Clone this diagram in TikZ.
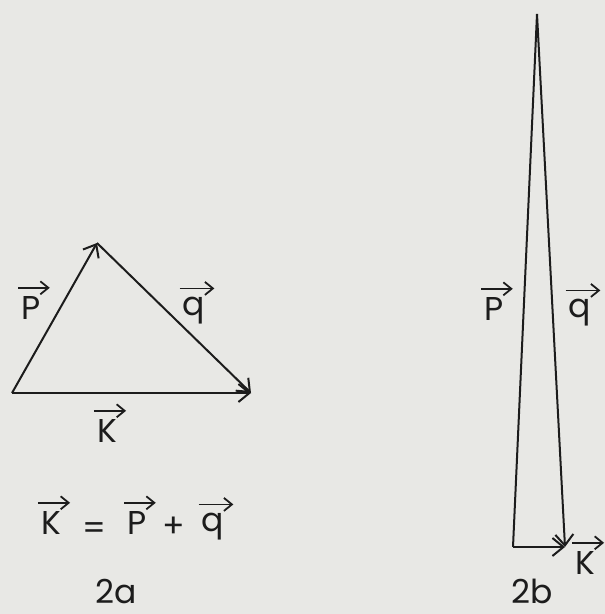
\documentclass[tikz,border=0pt]{standalone}
\usepackage{fontspec}
\setmainfont{Poppins}
\usetikzlibrary{arrows.meta}
\definecolor{paper}{RGB}{232,232,229}
\definecolor{ink}{RGB}{28,28,28}
\begin{document}
\begin{tikzpicture}[x=1pt,y=-1pt,
  side/.style={draw=ink,line width=2pt},
  vec/.style={side,-{Straight Barb[length=11pt,width=18pt,line width=2pt]}},
  ovec/.style={draw=ink,line width=1.8pt,-{Straight Barb[length=8pt,width=13pt,line width=1.8pt]}},
  lab/.style={inner sep=0pt,text=ink,font=\fontsize{33}{33}\selectfont,anchor=base},
  sym/.style={inner sep=0pt,text=ink,font=\fontsize{33}{33}\selectfont}]
\fill[paper] (0,0) rectangle (605,614);
\useasboundingbox (0,0) rectangle (605,614);
% figure 2a
\coordinate (a1) at (12,393);
\coordinate (a2) at (97,243);
\coordinate (a3) at (251,393);
\draw[vec] (a1) -- (a2);
\draw[vec] (a2) -- (a3);
\draw[vec] (a1) -- (a3);
\node[lab] (p1) at (31,319) {P};
\node[lab] (q1) at (194,315) {q};
\node[lab] (k1) at (107,442) {K};
% equation
\node[lab] (k2) at (51,534) {K};
\node[sym] (eq) at (94,531) {=};
\node[lab] (p2) at (137,534) {P};
\node[sym] (plus) at (174,527) {+};
\node[lab] (q2) at (213,531) {q};
\node[lab] (l2a) at (116,603) {2a};
% figure 2b
\coordinate (b1) at (513,547);
\coordinate (b2) at (537,14);
\coordinate (b3) at (565,547);
\draw[side] (b1) -- (b2);
\draw[vec] (b2) -- (b3);
\draw[vec] (b1) -- (b3);
\node[lab] (p3) at (494,320) {P};
\node[lab] (q3) at (580,317) {q};
\node[lab] (k3) at (585,574) {K};
\node[lab] (l2b) at (532,603) {2b};
% vector arrows over letters
\foreach \n in {p1,q1,k1,k2,p2,q2,p3,q3,k3}
  \draw[ovec] ([xshift=-3pt,yshift=8pt]\n.north west) -- ([xshift=9pt,yshift=8pt]\n.north east);
\end{tikzpicture}
\end{document}
